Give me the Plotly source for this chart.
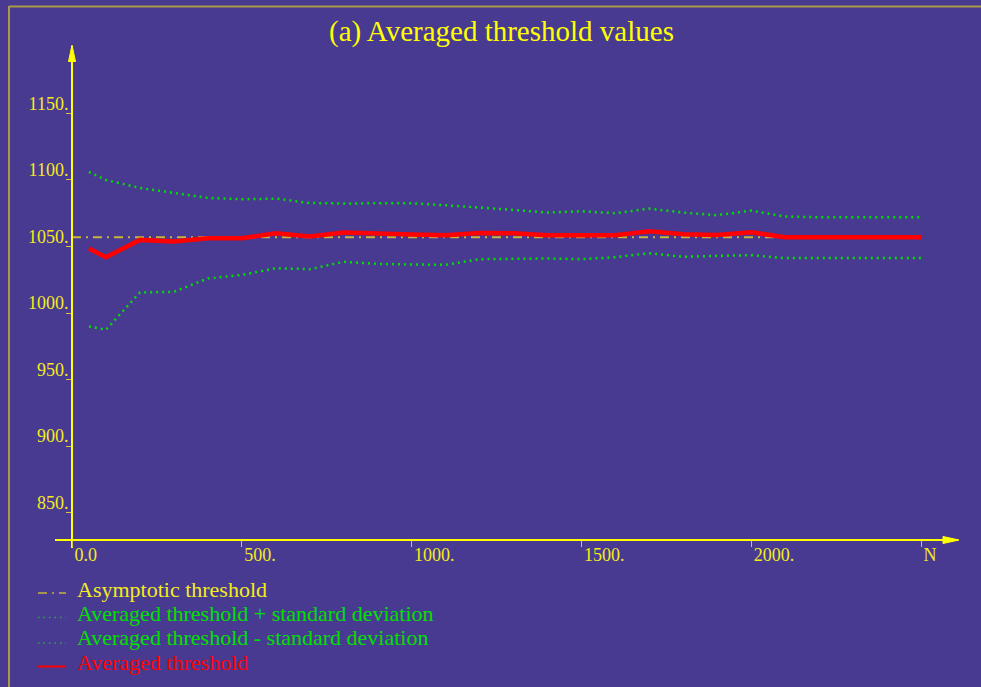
import plotly.graph_objects as go

# ---------------- data ----------------
N = [50, 100, 200, 300, 400, 500, 600, 700, 800, 900, 1000, 1100, 1200,
     1300, 1400, 1500, 1600, 1700, 1800, 1900, 2000, 2100, 2200, 2300, 2400, 2500]
avg = [1048.5, 1042, 1055, 1053.7, 1056.2, 1056.2, 1060, 1057.5, 1060.5, 1059.5,
       1059, 1058.5, 1060.2, 1060, 1058.5, 1058.5, 1058.5, 1061.5, 1059.2, 1058.7,
       1060.7, 1057, 1057, 1057, 1057, 1057]
upper = [1106, 1100, 1094, 1090.3, 1086.5, 1085.5, 1086, 1082.7, 1082.3, 1082.5,
         1082.5, 1081, 1079.5, 1077.5, 1075.5, 1076.5, 1075, 1078.5, 1075.5, 1073.5,
         1077, 1072.5, 1072, 1072, 1072, 1072]
lower = [990, 987.5, 1015.5, 1016, 1026, 1028.7, 1033.7, 1033, 1038.5, 1037,
         1036.5, 1036.3, 1040.5, 1041, 1041, 1040.5, 1042, 1045, 1042.3, 1043,
         1043.5, 1041.3, 1041.3, 1041.3, 1041.3, 1041.3]
asym_x = [0, 2500]
asym_y = [1057, 1057]

x_tickvals = [0, 500, 1000, 1500, 2000, 2500]
x_ticktext = ["0.0", "500.", "1000.", "1500.", "2000.", "N"]
y_tickvals = [850, 900, 950, 1000, 1050, 1100, 1150]
y_ticktext = ["850.", "900.", "950.", "1000.", "1050.", "1100.", "1150."]

title_text = "(a) Averaged threshold values"
legend_labels = ["Asymptotic threshold",
                 "Averaged threshold + standard deviation",
                 "Averaged threshold - standard deviation",
                 "Averaged threshold"]

# ---------------- style ----------------
W, H = 981, 687
BG = "#483a91"
YEL = "#ffff00"
YEL_TXT = "#f4ec1c"
ASYM = "#c8b43c"
GREEN = "#00e000"
RED = "#ff0000"
FRAME = "#a89a46"
FONT = "Liberation Serif"


def X(px):
    return px / W


def Y(py):
    return 1 - py / H


fig = go.Figure()
fig.add_trace(go.Scatter(x=asym_x, y=asym_y, mode="lines",
                         line=dict(color=ASYM, width=2, dash="9px,5px,2px,5px"),
                         name=legend_labels[0]))
fig.add_trace(go.Scatter(x=N, y=upper, mode="lines",
                         line=dict(color=GREEN, width=2.5, dash="2px,4px"),
                         name=legend_labels[1]))
fig.add_trace(go.Scatter(x=N, y=lower, mode="lines",
                         line=dict(color=GREEN, width=2.5, dash="2px,4px"),
                         name=legend_labels[2]))
fig.add_trace(go.Scatter(x=N, y=avg, mode="lines",
                         line=dict(color=RED, width=4.5),
                         name=legend_labels[3]))

shapes = []
# frame
shapes.append(dict(type="line", xref="paper", yref="paper", x0=X(9), x1=X(9), y0=Y(6), y1=Y(H),
                   line=dict(color=FRAME, width=2)))
shapes.append(dict(type="line", xref="paper", yref="paper", x0=X(9), x1=X(W + 5), y0=Y(6.5), y1=Y(6.5),
                   line=dict(color=FRAME, width=2)))
# arrow heads
shapes.append(dict(type="path", xref="paper", yref="paper",
                   path=f"M {X(72)},{Y(45)} L {X(68.5)},{Y(61.5)} L {X(75.5)},{Y(61.5)} Z",
                   fillcolor=YEL, line=dict(color=YEL, width=1)))
shapes.append(dict(type="path", xref="paper", yref="paper",
                   path=f"M {X(959)},{Y(540)} L {X(943)},{Y(536.5)} L {X(943)},{Y(543.5)} Z",
                   fillcolor=YEL, line=dict(color=YEL, width=1)))

# legend samples
leg_y = [593, 617.5, 643, 666.5]
leg_styles = [dict(color=ASYM, width=1.5, dash="9px,5px,2px,5px"),
              dict(color="#30a060", width=1.5, dash="1.5px,4px"),
              dict(color="#30a060", width=1.5, dash="1.5px,4px"),
              dict(color=RED, width=2)]
for yy, st in zip(leg_y, leg_styles):
    shapes.append(dict(type="line", xref="paper", yref="paper", x0=X(38), x1=X(66),
                       y0=Y(yy), y1=Y(yy), line=st))

annotations = [dict(text=title_text, xref="paper", yref="paper", x=X(501), y=Y(31),
                    xanchor="center", yanchor="middle", showarrow=False,
                    font=dict(family=FONT, size=29, color=YEL))]
leg_text_y = [589, 613, 637, 662]
leg_colors = [YEL_TXT, GREEN, GREEN, RED]
for lab, yy, c in zip(legend_labels, leg_text_y, leg_colors):
    annotations.append(dict(text=lab, xref="paper", yref="paper", x=X(75), y=Y(yy),
                            xanchor="left", yanchor="middle", showarrow=False,
                            font=dict(family=FONT, size=22, color=c)))

fig.update_layout(
    width=W, height=H,
    margin=dict(l=0, r=0, t=0, b=0),
    paper_bgcolor=BG, plot_bgcolor=BG,
    showlegend=False,
    shapes=shapes,
    annotations=annotations,
    xaxis=dict(domain=[X(55), X(958)], range=[-50.06, 2608.95],
               anchor="free", position=Y(540),
               showline=True, linecolor=YEL, linewidth=2,
               ticks="outside", ticklen=6, tickwidth=1, tickcolor="#d8c840",
               tickvals=x_tickvals, ticktext=x_ticktext,
               ticklabelposition="outside right", ticklabelshift=1, ticklabelstandoff=-2,
               tickfont=dict(family=FONT, size=18, color=YEL_TXT),
               showgrid=False, zeroline=False, fixedrange=True),
    yaxis=dict(domain=[Y(548), Y(46)], range=[823.6, 1200.6],
               anchor="free", position=X(72),
               showline=True, linecolor=YEL, linewidth=2,
               ticks="outside", ticklen=5, tickwidth=1, tickcolor="#d8c840",
               tickvals=y_tickvals, ticktext=y_ticktext,
               ticklabelposition="outside top", ticklabelstandoff=-1, ticklabelshift=3,
               tickfont=dict(family=FONT, size=18, color=YEL_TXT),
               showgrid=False, zeroline=False, fixedrange=True),
)

fig.write_html("out.html")
